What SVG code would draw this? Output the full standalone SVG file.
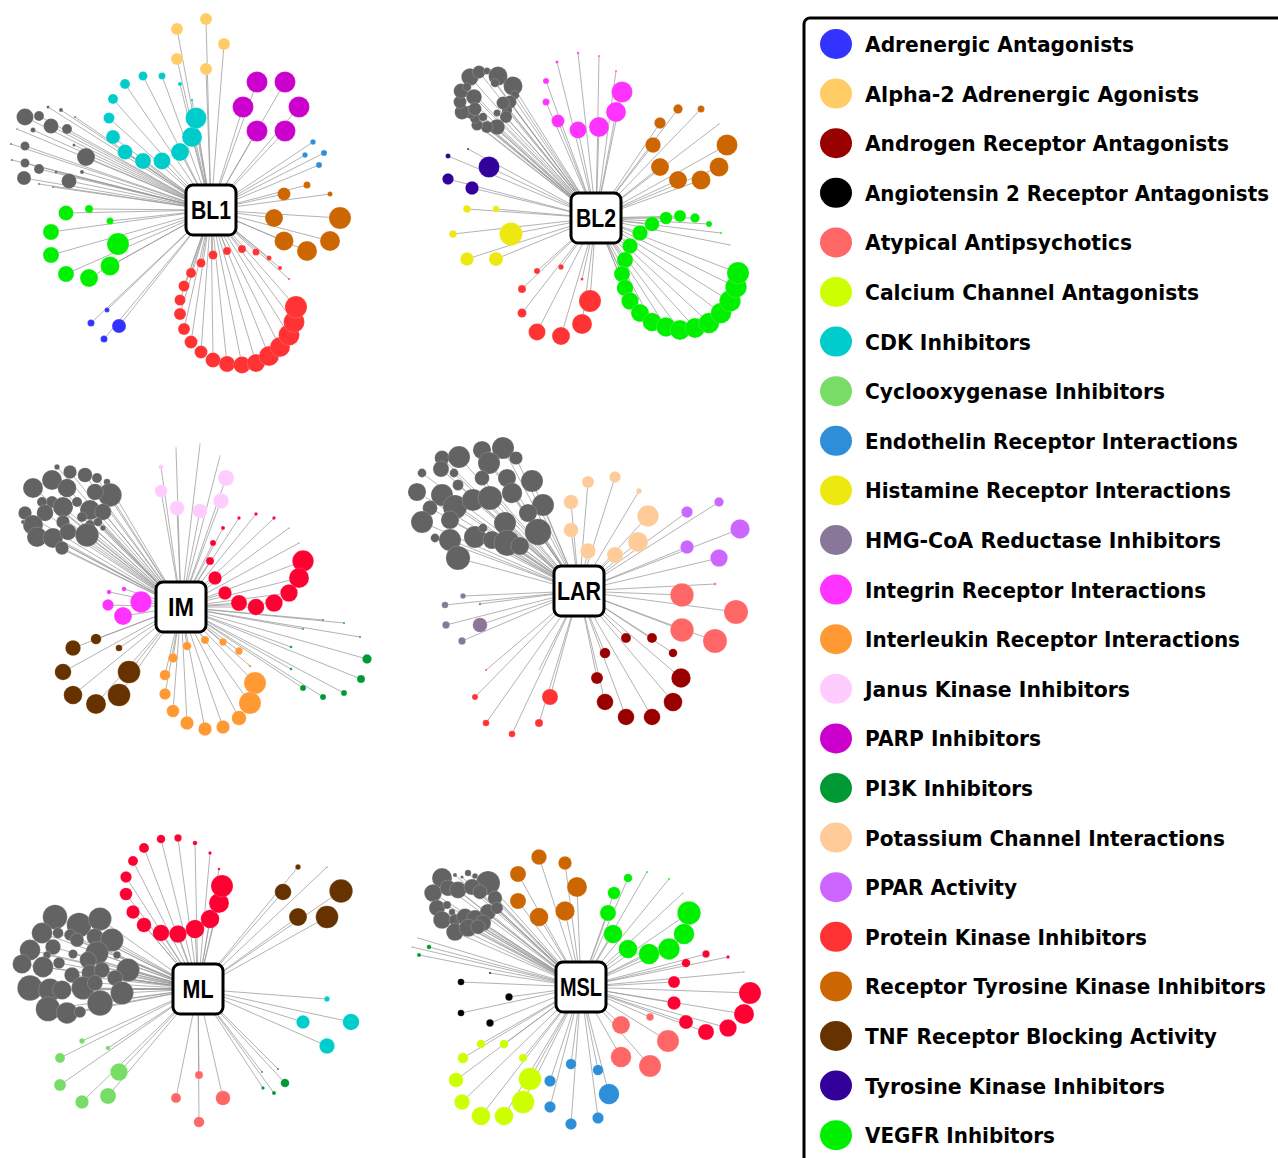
<svg xmlns="http://www.w3.org/2000/svg" width="1278" height="1158" viewBox="0 0 1278 1158">
<style>
.e{fill:none;stroke:#9a9a9a;stroke-width:0.75}
.n circle{stroke:#fff;stroke-opacity:0.35;stroke-width:0.5}
.hub rect{fill:#fff;stroke:#000;stroke-width:3}
.hub text{font-family:"Liberation Sans",Arial,sans-serif;font-weight:bold;font-size:26px;text-anchor:middle;fill:#000}
.lg text{font-family:"DejaVu Sans","Liberation Sans",sans-serif;font-weight:bold;font-size:21px;fill:#000}
.ad{fill:#3333FF}.a2{fill:#FFCC66}.an{fill:#990000}.ag{fill:#000}.at{fill:#FF6666}.ca{fill:#CCFF00}.cd{fill:#00CCCC}.co{fill:#77DD66}.en{fill:#2E8FD8}.hi{fill:#EEE811}.hm{fill:#887799}.in{fill:#FF33FF}.il{fill:#FF9933}.jk{fill:#FFCCFF}.pa{fill:#CC00CC}.p3{fill:#009933}.po{fill:#FFCC99}.pp{fill:#CC66FF}.pk{fill:#FF3333}.pk2{fill:#FF0033}.rt{fill:#CC6600}.tn{fill:#663300}.tk{fill:#330099}.vg{fill:#00F000}.gy{fill:#636363}
</style>
<rect width="1278" height="1158" fill="#fff"/>
<g id="connectors">
<path id="edges-BL1" class="e" d="M211 210L177 29M211 210L206 19M211 210L224 44M211 210L177 59M211 210L206 69M211 210L125 84M211 210L143 76M211 210L162 76M211 210L180 84M211 210L192 100M211 210L113 99M211 210L109 118M211 210L113 137M211 210L125 152M211 210L143 161M211 210L162 161M211 210L180 152M211 210L192 137M211 210L196 118M211 210L257 82M211 210L285 82M211 210L243 107M211 210L299 107M211 210L257 131M211 210L285 131M211 210L313 142M211 210L305 155M211 210L324 153M211 210L319 165M211 210L307 185M211 210L330 194M211 210L284 194M211 210L340 218M211 210L274 218M211 210L284 241M211 210L330 241M211 210L307 251M211 210L289 279M211 210L280 268M211 210L269 258M211 210L256 252M211 210L242 249M211 210L227 251M211 210L213 255M211 210L201 263M211 210L191 273M211 210L184 286M211 210L180 300M211 210L180 314M211 210L184 329M211 210L191 342M211 210L201 352M211 210L213 360M211 210L227 364M211 210L242 365M211 210L256 363M211 210L269 356M211 210L280 347M211 210L289 335M211 210L294 322M211 210L296 307M211 210L107 310M211 210L91 323M211 210L119 326M211 210L104 339M211 210L89 209M211 210L110 221M211 210L66 213M211 210L51 232M211 210L118 244M211 210L51 255M211 210L110 266M211 210L66 274M211 210L89 278M211 210L25 117M211 210L39 116M211 210L51 126M211 210L67 129M211 210L48 107M211 210L61 110M211 210L75 117M211 210L33 130M211 210L25 146M211 210L74 145M211 210L86 157M211 210L11 144M211 210L25 163M211 210L39 169M211 210L56 172M211 210L82 172M211 210L24 178M211 210L69 181M211 210L12 160M211 210L39 184M211 210L53 187M211 210L17 129"/>
<path id="edges-BL2" class="e" d="M596 218L470 77M596 218L479 72M596 218L487 71M596 218L498 76M596 218L513 86M596 218L515 95M596 218L510 102M596 218L507 110M596 218L506 117M596 218L497 127M596 218L487 127M596 218L477 125M596 218L475 118M596 218L470 112M596 218L462 112M596 218L460 102M596 218L461 91M596 218L467 87M596 218L474 97M596 218L475 109M596 218L483 117M596 218L497 113M596 218L503 103M596 218L495 83M596 218L578 53M596 218L599 56M596 218L557 62M596 218L616 71M596 218L546 81M596 218L622 92M596 218L546 102M596 218L616 112M596 218L558 121M596 218L578 130M596 218L599 127M596 218L678 109M596 218L701 109M596 218L660 123M596 218L719 124M596 218L653 145M596 218L727 145M596 218L660 167M596 218L719 167M596 218L678 180M596 218L701 180M596 218L468 149M596 218L448 156M596 218L489 167M596 218L448 179M596 218L472 188M596 218L467 209M596 218L496 209M596 218L453 234M596 218L511 234M596 218L467 259M596 218L496 259M596 218L537 271M596 218L561 267M596 218L582 279M596 218L522 289M596 218L590 301M596 218L522 313M596 218L582 324M596 218L537 332M596 218L561 336M596 218L730 245M596 218L721 233M596 218L709 224M596 218L695 218M596 218L680 216M596 218L666 218M596 218L652 224M596 218L640 233M596 218L630 246M596 218L625 260M596 218L622 274M596 218L625 288M596 218L630 301M596 218L640 313M596 218L652 322M596 218L666 327M596 218L680 330M596 218L695 328M596 218L709 323M596 218L721 313M596 218L730 301M596 218L736 287M596 218L738 273"/>
<path id="edges-IM" class="e" d="M181 607L57 467M181 607L70 472M181 607L85 475M181 607L97 478M181 607L107 482M181 607L52 480M181 607L33 488M181 607L67 488M181 607L110 495M181 607L95 492M181 607L52 502M181 607L42 502M181 607L77 502M181 607L63 507M181 607L25 513M181 607L45 513M181 607L90 510M181 607L103 512M181 607L33 525M181 607L63 522M181 607L82 517M181 607L90 525M181 607L98 522M181 607L37 537M181 607L53 538M181 607L68 532M181 607L87 535M181 607L62 548M181 607L23 522M181 607L103 528M181 607L176 448M181 607L200 444M181 607L220 456M181 607L161 467M181 607L226 478M181 607L161 491M181 607L221 501M181 607L177 508M181 607L200 511M181 607L239 518M181 607L256 514M181 607L274 518M181 607L223 528M181 607L289 528M181 607L213 543M181 607L299 543M181 607L210 561M181 607L303 561M181 607L215 578M181 607L299 578M181 607L225 593M181 607L289 593M181 607L239 603M181 607L256 607M181 607L274 603M181 607L109 592M181 607L124 589M181 607L108 605M181 607L141 602M181 607L123 616M181 607L96 639M181 607L73 648M181 607L119 648M181 607L63 672M181 607L129 672M181 607L73 695M181 607L119 695M181 607L96 704M181 607L187 646M181 607L205 640M181 607L223 642M181 607L239 651M181 607L250 666M181 607L173 658M181 607L165 675M181 607L255 683M181 607L165 694M181 607L250 703M181 607L173 711M181 607L239 718M181 607L187 723M181 607L223 727M181 607L205 729M181 607L323 620M181 607L344 623M181 607L303 629M181 607L360 637M181 607L291 647M181 607L291 669M181 607L367 659M181 607L361 679M181 607L303 688M181 607L323 697M181 607L344 693"/>
<path id="edges-LAR" class="e" d="M579 591L422 473M579 591L442 458M579 591L459 457M579 591L482 450M579 591L503 448M579 591L516 458M579 591L489 463M579 591L441 469M579 591L454 473M579 591L482 478M579 591L507 478M579 591L532 481M579 591L417 492M579 591L442 495M579 591L458 485M579 591L455 507M579 591L473 500M579 591L490 498M579 591L512 493M579 591L543 505M579 591L430 508M579 591L528 513M579 591L422 522M579 591L450 520M579 591L505 523M579 591L538 532M579 591L435 538M579 591L450 540M579 591L475 537M579 591L492 540M579 591L507 543M579 591L520 546M579 591L458 558M579 591L483 528M579 591L588 482M579 591L615 477M579 591L639 491M579 591L571 502M579 591L648 516M579 591L571 530M579 591L638 542M579 591L588 551M579 591L615 555M579 591L719 502M579 591L687 512M579 591L740 529M579 591L687 547M579 591L719 558M579 591L715 584M579 591L682 595M579 591L736 612M579 591L682 630M579 591L715 641M579 591L626 638M579 591L652 638M579 591L605 653M579 591L673 653M579 591L597 678M579 591L681 678M579 591L605 702M579 591L673 702M579 591L626 717M579 591L652 717M579 591L463 596M579 591L445 605M579 591L480 604M579 591L446 625M579 591L480 625M579 591L462 641M579 591L486 670M579 591L475 697M579 591L550 697M579 591L486 723M579 591L512 734M579 591L539 723M579 591L539 670"/>
<path id="edges-ML" class="e" d="M198 989L219 869M198 989L210 853M198 989L195 843M198 989L178 838M198 989L161 839M198 989L144 848M198 989L133 861M198 989L126 877M198 989L126 894M198 989L133 912M198 989L144 925M198 989L161 933M198 989L178 934M198 989L195 929M198 989L210 919M198 989L219 903M198 989L222 886M198 989L298 867M198 989L327 867M198 989L283 892M198 989L341 891M198 989L298 917M198 989L327 917M198 989L327 999M198 989L303 1022M198 989L351 1022M198 989L327 1046M198 989L262 1072M198 989L278 1069M198 989L263 1088M198 989L274 1093M198 989L285 1083M198 989L199 1075M198 989L176 1098M198 989L223 1098M198 989L199 1122M198 989L82 1041M198 989L108 1048M198 989L60 1058M198 989L119 1072M198 989L60 1085M198 989L108 1096M198 989L82 1102M198 989L55 917M198 989L79 925M198 989L100 919M198 989L42 933M198 989L58 933M198 989L70 935M198 989L95 937M198 989L112 940M198 989L30 950M198 989L53 947M198 989L77 940M198 989L47 955M198 989L73 954M198 989L97 953M198 989L117 955M198 989L22 964M198 989L43 967M198 989L59 963M198 989L88 960M198 989L128 970M198 989L72 975M198 989L90 973M198 989L102 970M198 989L115 978M198 989L30 988M198 989L50 990M198 989L62 990M198 989L83 988M198 989L95 983M198 989L122 993M198 989L48 1009M198 989L67 1013M198 989L80 1012M198 989L100 1003"/>
<path id="edges-MSL" class="e" d="M581 987L442 878M581 987L455 875M581 987L462 877M581 987L468 873M581 987L475 876M581 987L488 883M581 987L433 893M581 987L448 888M581 987L458 890M581 987L472 887M581 987L480 892M581 987L495 898M581 987L437 908M581 987L447 905M581 987L488 912M581 987L497 908M581 987L442 920M581 987L455 920M581 987L465 917M581 987L475 918M581 987L483 923M581 987L455 932M581 987L468 928M581 987L478 927M581 987L452 912M581 987L539 857M581 987L565 863M581 987L518 874M581 987L577 887M581 987L518 901M581 987L565 911M581 987L539 917M581 987L647 872M581 987L669 879M581 987L628 878M581 987L683 893M581 987L614 893M581 987L689 913M581 987L608 913M581 987L684 934M581 987L613 934M581 987L669 949M581 987L628 949M581 987L649 954M581 987L706 954M581 987L728 957M581 987L686 963M581 987L744 972M581 987L674 982M581 987L750 993M581 987L674 1003M581 987L744 1014M581 987L686 1022M581 987L728 1028M581 987L706 1032M581 987L650 1017M581 987L621 1025M581 987L668 1041M581 987L621 1057M581 987L650 1066M581 987L571 1064M581 987L598 1070M581 987L550 1081M581 987L609 1094M581 987L550 1107M581 987L598 1118M581 987L571 1124M581 987L481 1044M581 987L504 1044M581 987L523 1058M581 987L463 1058M581 987L530 1079M581 987L456 1080M581 987L523 1102M581 987L462 1102M581 987L481 1116M581 987L504 1116M581 987L490 973M581 987L461 982M581 987L509 997M581 987L461 1013M581 987L490 1023M581 987L412 947M581 987L429 947M581 987L419 955M581 987L418 938"/>
</g>
<g id="nodes-BL1" class="n">
<g id="BL1-alpha2" class="a2"><circle cx="177" cy="29" r="6"/><circle cx="206" cy="19" r="6"/><circle cx="224" cy="44" r="6"/><circle cx="177" cy="59" r="6"/><circle cx="206" cy="69" r="6"/></g>
<g id="BL1-cdk" class="cd"><circle cx="125" cy="84" r="5"/><circle cx="143" cy="76" r="4.5"/><circle cx="162" cy="76" r="3.5"/><circle cx="180" cy="84" r="2"/><circle cx="192" cy="100" r="1.2"/><circle cx="113" cy="99" r="5"/><circle cx="109" cy="118" r="5.5"/><circle cx="113" cy="137" r="7"/><circle cx="125" cy="152" r="7.5"/><circle cx="143" cy="161" r="8"/><circle cx="162" cy="161" r="8.5"/><circle cx="180" cy="152" r="9"/><circle cx="192" cy="137" r="10"/><circle cx="196" cy="118" r="10.5"/></g>
<g id="BL1-parp" class="pa"><circle cx="257" cy="82" r="10.5"/><circle cx="285" cy="82" r="10.5"/><circle cx="243" cy="107" r="10.5"/><circle cx="299" cy="107" r="10.5"/><circle cx="257" cy="131" r="10.5"/><circle cx="285" cy="131" r="10.5"/></g>
<g id="BL1-endothelin" class="en"><circle cx="313" cy="142" r="2.7"/><circle cx="305" cy="155" r="2.7"/><circle cx="324" cy="153" r="3"/><circle cx="319" cy="165" r="3"/></g>
<g id="BL1-rtk" class="rt"><circle cx="307" cy="185" r="3.5"/><circle cx="330" cy="194" r="2.5"/><circle cx="284" cy="194" r="6.5"/><circle cx="340" cy="218" r="11"/><circle cx="274" cy="218" r="9"/><circle cx="284" cy="241" r="9.5"/><circle cx="330" cy="241" r="10"/><circle cx="307" cy="251" r="10"/></g>
<g id="BL1-pk" class="pk"><circle cx="289" cy="279" r="1"/><circle cx="280" cy="268" r="2"/><circle cx="269" cy="258" r="2.5"/><circle cx="256" cy="252" r="3.5"/><circle cx="242" cy="249" r="4"/><circle cx="227" cy="251" r="4"/><circle cx="213" cy="255" r="4.5"/><circle cx="201" cy="263" r="4.5"/><circle cx="191" cy="273" r="5"/><circle cx="184" cy="286" r="5.5"/><circle cx="180" cy="300" r="5.5"/><circle cx="180" cy="314" r="6"/><circle cx="184" cy="329" r="6"/><circle cx="191" cy="342" r="6.5"/><circle cx="201" cy="352" r="6.5"/><circle cx="213" cy="360" r="7.5"/><circle cx="227" cy="364" r="8"/><circle cx="242" cy="365" r="8.5"/><circle cx="256" cy="363" r="9"/><circle cx="269" cy="356" r="10"/><circle cx="280" cy="347" r="10"/><circle cx="289" cy="335" r="10.5"/><circle cx="294" cy="322" r="10.5"/><circle cx="296" cy="307" r="11"/></g>
<g id="BL1-adrenergic" class="ad"><circle cx="107" cy="310" r="2.5"/><circle cx="91" cy="323" r="3.5"/><circle cx="119" cy="326" r="7"/><circle cx="104" cy="339" r="3.5"/></g>
<g id="BL1-vegfr" class="vg"><circle cx="89" cy="209" r="4"/><circle cx="110" cy="221" r="3.5"/><circle cx="66" cy="213" r="7.5"/><circle cx="51" cy="232" r="8"/><circle cx="118" cy="244" r="11"/><circle cx="51" cy="255" r="8"/><circle cx="110" cy="266" r="9.5"/><circle cx="66" cy="274" r="8"/><circle cx="89" cy="278" r="9"/></g>
<g id="BL1-other" class="gy"><circle cx="25" cy="117" r="8.5"/><circle cx="39" cy="116" r="5"/><circle cx="51" cy="126" r="7.5"/><circle cx="67" cy="129" r="5"/><circle cx="48" cy="107" r="1.5"/><circle cx="61" cy="110" r="2"/><circle cx="75" cy="117" r="1"/><circle cx="33" cy="130" r="2.5"/><circle cx="25" cy="146" r="4.5"/><circle cx="74" cy="145" r="1.5"/><circle cx="86" cy="157" r="9"/><circle cx="11" cy="144" r="1"/><circle cx="25" cy="163" r="4.5"/><circle cx="39" cy="169" r="5"/><circle cx="56" cy="172" r="1.5"/><circle cx="82" cy="172" r="2"/><circle cx="24" cy="178" r="7"/><circle cx="69" cy="181" r="7.5"/><circle cx="12" cy="160" r="1"/><circle cx="39" cy="184" r="1"/><circle cx="53" cy="187" r="1"/><circle cx="17" cy="129" r="0.8"/></g>
</g>
<g id="nodes-BL2" class="n">
<g id="BL2-other" class="gy"><circle cx="470" cy="77" r="8.7"/><circle cx="479" cy="72" r="6.5"/><circle cx="487" cy="71" r="3.5"/><circle cx="498" cy="76" r="9.5"/><circle cx="513" cy="86" r="9.5"/><circle cx="515" cy="95" r="4.3"/><circle cx="510" cy="102" r="6.5"/><circle cx="507" cy="110" r="5.2"/><circle cx="506" cy="117" r="6.1"/><circle cx="497" cy="127" r="7.8"/><circle cx="487" cy="127" r="6.1"/><circle cx="477" cy="125" r="5.6"/><circle cx="475" cy="118" r="5.2"/><circle cx="470" cy="112" r="6.5"/><circle cx="462" cy="112" r="7.4"/><circle cx="460" cy="102" r="6.5"/><circle cx="461" cy="91" r="7.4"/><circle cx="467" cy="87" r="4.3"/><circle cx="474" cy="97" r="7.8"/><circle cx="475" cy="109" r="6.5"/><circle cx="483" cy="117" r="4.3"/><circle cx="497" cy="113" r="3.5"/><circle cx="503" cy="103" r="6.5"/><circle cx="495" cy="83" r="4.3"/></g>
<g id="BL2-integrin" class="in"><circle cx="578" cy="53" r="1.2"/><circle cx="599" cy="56" r="1"/><circle cx="557" cy="62" r="1.5"/><circle cx="616" cy="71" r="1"/><circle cx="546" cy="81" r="3"/><circle cx="622" cy="92" r="10.5"/><circle cx="546" cy="102" r="3.5"/><circle cx="616" cy="112" r="10"/><circle cx="558" cy="121" r="6.5"/><circle cx="578" cy="130" r="8.5"/><circle cx="599" cy="127" r="10"/></g>
<g id="BL2-rtk" class="rt"><circle cx="678" cy="109" r="4.7"/><circle cx="701" cy="109" r="3.5"/><circle cx="660" cy="123" r="5.7"/><circle cx="719" cy="124" r="0.6"/><circle cx="653" cy="145" r="7.7"/><circle cx="727" cy="145" r="10.5"/><circle cx="660" cy="167" r="9"/><circle cx="719" cy="167" r="9.5"/><circle cx="678" cy="180" r="9"/><circle cx="701" cy="180" r="9.5"/></g>
<g id="BL2-tki" class="tk"><circle cx="468" cy="149" r="1"/><circle cx="448" cy="156" r="2.5"/><circle cx="489" cy="167" r="10.5"/><circle cx="448" cy="179" r="5.7"/><circle cx="472" cy="188" r="6.7"/></g>
<g id="BL2-histamine" class="hi"><circle cx="467" cy="209" r="3.8"/><circle cx="496" cy="209" r="3.2"/><circle cx="453" cy="234" r="3.8"/><circle cx="511" cy="234" r="11.5"/><circle cx="467" cy="259" r="6.7"/><circle cx="496" cy="259" r="7"/></g>
<g id="BL2-pk" class="pk"><circle cx="537" cy="271" r="3"/><circle cx="561" cy="267" r="2.7"/><circle cx="582" cy="279" r="1.5"/><circle cx="522" cy="289" r="4"/><circle cx="590" cy="301" r="11"/><circle cx="522" cy="313" r="4.5"/><circle cx="582" cy="324" r="10"/><circle cx="537" cy="332" r="8.5"/><circle cx="561" cy="336" r="9"/></g>
<g id="BL2-vegfr" class="vg"><circle cx="730" cy="245" r="0.6"/><circle cx="721" cy="233" r="1"/><circle cx="709" cy="224" r="3"/><circle cx="695" cy="218" r="4.7"/><circle cx="680" cy="216" r="6"/><circle cx="666" cy="218" r="6.3"/><circle cx="652" cy="224" r="7.3"/><circle cx="640" cy="233" r="7.7"/><circle cx="630" cy="246" r="7.7"/><circle cx="625" cy="260" r="8"/><circle cx="622" cy="274" r="8"/><circle cx="625" cy="288" r="8.3"/><circle cx="630" cy="301" r="8.7"/><circle cx="640" cy="313" r="9"/><circle cx="652" cy="322" r="9.3"/><circle cx="666" cy="327" r="9.7"/><circle cx="680" cy="330" r="10"/><circle cx="695" cy="328" r="10"/><circle cx="709" cy="323" r="10.3"/><circle cx="721" cy="313" r="10.3"/><circle cx="730" cy="301" r="10.7"/><circle cx="736" cy="287" r="10.7"/><circle cx="738" cy="273" r="11"/></g>
</g>
<g id="nodes-IM" class="n">
<g id="IM-other" class="gy"><circle cx="57" cy="467" r="2.7"/><circle cx="70" cy="472" r="6.7"/><circle cx="85" cy="475" r="7.3"/><circle cx="97" cy="478" r="5"/><circle cx="107" cy="482" r="3.3"/><circle cx="52" cy="480" r="10"/><circle cx="33" cy="488" r="10"/><circle cx="67" cy="488" r="9.3"/><circle cx="110" cy="495" r="11.7"/><circle cx="95" cy="492" r="8.3"/><circle cx="52" cy="502" r="6"/><circle cx="42" cy="502" r="5"/><circle cx="77" cy="502" r="5"/><circle cx="63" cy="507" r="10"/><circle cx="25" cy="513" r="6.7"/><circle cx="45" cy="513" r="8.3"/><circle cx="90" cy="510" r="10"/><circle cx="103" cy="512" r="8.3"/><circle cx="33" cy="525" r="10"/><circle cx="63" cy="522" r="6.7"/><circle cx="82" cy="517" r="5"/><circle cx="90" cy="525" r="5"/><circle cx="98" cy="522" r="4.3"/><circle cx="37" cy="537" r="10"/><circle cx="53" cy="538" r="10"/><circle cx="68" cy="532" r="8.3"/><circle cx="87" cy="535" r="11.7"/><circle cx="62" cy="548" r="6.7"/><circle cx="23" cy="522" r="2"/><circle cx="103" cy="528" r="2.7"/></g>
<g id="IM-janus" class="jk"><circle cx="176" cy="448" r="1.2"/><circle cx="200" cy="444" r="1.2"/><circle cx="220" cy="456" r="1.2"/><circle cx="161" cy="467" r="2.5"/><circle cx="226" cy="478" r="8"/><circle cx="161" cy="491" r="6.3"/><circle cx="221" cy="501" r="7.7"/><circle cx="177" cy="508" r="7.3"/><circle cx="200" cy="511" r="7.3"/></g>
<g id="IM-pk" class="pk2"><circle cx="239" cy="518" r="1.7"/><circle cx="256" cy="514" r="1.7"/><circle cx="274" cy="518" r="1.7"/><circle cx="223" cy="528" r="2"/><circle cx="289" cy="528" r="0.6"/><circle cx="213" cy="543" r="3"/><circle cx="299" cy="543" r="0.6"/><circle cx="210" cy="561" r="4"/><circle cx="303" cy="561" r="10.7"/><circle cx="215" cy="578" r="6.7"/><circle cx="299" cy="578" r="10"/><circle cx="225" cy="593" r="6.7"/><circle cx="289" cy="593" r="8.7"/><circle cx="239" cy="603" r="8"/><circle cx="256" cy="607" r="8.3"/><circle cx="274" cy="603" r="8.7"/></g>
<g id="IM-integrin" class="in"><circle cx="109" cy="592" r="2.3"/><circle cx="124" cy="589" r="2.3"/><circle cx="108" cy="605" r="5.7"/><circle cx="141" cy="602" r="10.7"/><circle cx="123" cy="616" r="9"/></g>
<g id="IM-tnf" class="tn"><circle cx="96" cy="639" r="5.3"/><circle cx="73" cy="648" r="7.7"/><circle cx="119" cy="648" r="3.3"/><circle cx="63" cy="672" r="8.3"/><circle cx="129" cy="672" r="11.3"/><circle cx="73" cy="695" r="9.3"/><circle cx="119" cy="695" r="11.3"/><circle cx="96" cy="704" r="10"/></g>
<g id="IM-interleukin" class="il"><circle cx="187" cy="646" r="4.3"/><circle cx="205" cy="640" r="4"/><circle cx="223" cy="642" r="3.7"/><circle cx="239" cy="651" r="3.7"/><circle cx="250" cy="666" r="1.3"/><circle cx="173" cy="658" r="4.7"/><circle cx="165" cy="675" r="5.3"/><circle cx="255" cy="683" r="11"/><circle cx="165" cy="694" r="5.7"/><circle cx="250" cy="703" r="11"/><circle cx="173" cy="711" r="6.3"/><circle cx="239" cy="718" r="7.3"/><circle cx="187" cy="723" r="6.7"/><circle cx="223" cy="727" r="6.7"/><circle cx="205" cy="729" r="6.7"/></g>
<g id="IM-pi3k" class="p3"><circle cx="323" cy="620" r="1"/><circle cx="344" cy="623" r="1"/><circle cx="303" cy="629" r="1"/><circle cx="360" cy="637" r="1"/><circle cx="291" cy="647" r="1.3"/><circle cx="291" cy="669" r="1.3"/><circle cx="367" cy="659" r="4.7"/><circle cx="361" cy="679" r="4"/><circle cx="303" cy="688" r="3"/><circle cx="323" cy="697" r="3"/><circle cx="344" cy="693" r="3"/></g>
</g>
<g id="nodes-LAR" class="n">
<g id="LAR-other" class="gy"><circle cx="422" cy="473" r="4.4"/><circle cx="442" cy="458" r="7.4"/><circle cx="459" cy="457" r="11"/><circle cx="482" cy="450" r="9.1"/><circle cx="503" cy="448" r="11"/><circle cx="516" cy="458" r="6.6"/><circle cx="489" cy="463" r="11"/><circle cx="441" cy="469" r="8"/><circle cx="454" cy="473" r="4.4"/><circle cx="482" cy="478" r="7.4"/><circle cx="507" cy="478" r="9.1"/><circle cx="532" cy="481" r="11"/><circle cx="417" cy="492" r="9.1"/><circle cx="442" cy="495" r="11"/><circle cx="458" cy="485" r="5.5"/><circle cx="455" cy="507" r="12.1"/><circle cx="473" cy="500" r="11"/><circle cx="490" cy="498" r="12.1"/><circle cx="512" cy="493" r="10.2"/><circle cx="543" cy="505" r="11"/><circle cx="430" cy="508" r="7.4"/><circle cx="528" cy="513" r="9.1"/><circle cx="422" cy="522" r="11"/><circle cx="450" cy="520" r="9.1"/><circle cx="505" cy="523" r="11"/><circle cx="538" cy="532" r="13.2"/><circle cx="435" cy="538" r="4.4"/><circle cx="450" cy="540" r="11"/><circle cx="475" cy="537" r="11"/><circle cx="492" cy="540" r="9.1"/><circle cx="507" cy="543" r="12.9"/><circle cx="520" cy="546" r="9.1"/><circle cx="458" cy="558" r="12.1"/><circle cx="483" cy="528" r="4.4"/></g>
<g id="LAR-potassium" class="po"><circle cx="588" cy="482" r="6"/><circle cx="615" cy="477" r="5.7"/><circle cx="639" cy="491" r="2.7"/><circle cx="571" cy="502" r="7.3"/><circle cx="648" cy="516" r="10.7"/><circle cx="571" cy="530" r="7.3"/><circle cx="638" cy="542" r="10"/><circle cx="588" cy="551" r="7.7"/><circle cx="615" cy="555" r="8"/></g>
<g id="LAR-ppar" class="pp"><circle cx="719" cy="502" r="4.7"/><circle cx="687" cy="512" r="5.7"/><circle cx="740" cy="529" r="9.7"/><circle cx="687" cy="547" r="6.7"/><circle cx="719" cy="558" r="8.7"/></g>
<g id="LAR-atypical" class="at"><circle cx="715" cy="584" r="1.3"/><circle cx="682" cy="595" r="11.7"/><circle cx="736" cy="612" r="12"/><circle cx="682" cy="630" r="11.7"/><circle cx="715" cy="641" r="12"/></g>
<g id="LAR-androgen" class="an"><circle cx="626" cy="638" r="5"/><circle cx="652" cy="638" r="5"/><circle cx="605" cy="653" r="5.3"/><circle cx="673" cy="653" r="4.3"/><circle cx="597" cy="678" r="6"/><circle cx="681" cy="678" r="9.7"/><circle cx="605" cy="702" r="8.3"/><circle cx="673" cy="702" r="9.3"/><circle cx="626" cy="717" r="8.3"/><circle cx="652" cy="717" r="8.3"/></g>
<g id="LAR-hmgcoa" class="hm"><circle cx="463" cy="596" r="2.7"/><circle cx="445" cy="605" r="3.3"/><circle cx="480" cy="604" r="1.3"/><circle cx="446" cy="625" r="3.7"/><circle cx="480" cy="625" r="7.3"/><circle cx="462" cy="641" r="3.7"/></g>
<g id="LAR-pk" class="pk"><circle cx="486" cy="670" r="1"/><circle cx="475" cy="697" r="3"/><circle cx="550" cy="697" r="8"/><circle cx="486" cy="723" r="3.3"/><circle cx="512" cy="734" r="3.3"/><circle cx="539" cy="723" r="4"/></g>
</g>
<g id="nodes-ML" class="n">
<g id="ML-pk" class="pk2"><circle cx="219" cy="869" r="1.3"/><circle cx="210" cy="853" r="1.7"/><circle cx="195" cy="843" r="2.3"/><circle cx="178" cy="838" r="3.7"/><circle cx="161" cy="839" r="4.3"/><circle cx="144" cy="848" r="5"/><circle cx="133" cy="861" r="5"/><circle cx="126" cy="877" r="5.7"/><circle cx="126" cy="894" r="6.3"/><circle cx="133" cy="912" r="6.7"/><circle cx="144" cy="925" r="7.3"/><circle cx="161" cy="933" r="8.3"/><circle cx="178" cy="934" r="8.7"/><circle cx="195" cy="929" r="9.3"/><circle cx="210" cy="919" r="9.3"/><circle cx="219" cy="903" r="10"/><circle cx="222" cy="886" r="11"/></g>
<g id="ML-tnf" class="tn"><circle cx="298" cy="867" r="2.7"/><circle cx="327" cy="867" r="0.6"/><circle cx="283" cy="892" r="8.3"/><circle cx="341" cy="891" r="11.7"/><circle cx="298" cy="917" r="9"/><circle cx="327" cy="917" r="11.3"/></g>
<g id="ML-cdk" class="cd"><circle cx="327" cy="999" r="2.7"/><circle cx="303" cy="1022" r="6.7"/><circle cx="351" cy="1022" r="8.3"/><circle cx="327" cy="1046" r="7.7"/></g>
<g id="ML-pi3k" class="p3"><circle cx="262" cy="1072" r="1"/><circle cx="278" cy="1069" r="1"/><circle cx="263" cy="1088" r="1.7"/><circle cx="274" cy="1093" r="2"/><circle cx="285" cy="1083" r="4.3"/></g>
<g id="ML-atypical" class="at"><circle cx="199" cy="1075" r="4"/><circle cx="176" cy="1098" r="5"/><circle cx="223" cy="1098" r="7.3"/><circle cx="199" cy="1122" r="5.3"/></g>
<g id="ML-cox" class="co"><circle cx="82" cy="1041" r="2.7"/><circle cx="108" cy="1048" r="2.3"/><circle cx="60" cy="1058" r="5"/><circle cx="119" cy="1072" r="8.7"/><circle cx="60" cy="1085" r="6"/><circle cx="108" cy="1096" r="8"/><circle cx="82" cy="1102" r="6.7"/></g>
<g id="ML-other" class="gy"><circle cx="55" cy="917" r="12.3"/><circle cx="79" cy="925" r="12.3"/><circle cx="100" cy="919" r="11.5"/><circle cx="42" cy="933" r="10.4"/><circle cx="58" cy="933" r="5.4"/><circle cx="70" cy="935" r="5.8"/><circle cx="95" cy="937" r="8.4"/><circle cx="112" cy="940" r="11.5"/><circle cx="30" cy="950" r="10.4"/><circle cx="53" cy="947" r="7.7"/><circle cx="77" cy="940" r="6.9"/><circle cx="47" cy="955" r="3.8"/><circle cx="73" cy="954" r="4.6"/><circle cx="97" cy="953" r="11.5"/><circle cx="117" cy="955" r="3.8"/><circle cx="22" cy="964" r="9.5"/><circle cx="43" cy="967" r="10.4"/><circle cx="59" cy="963" r="5.8"/><circle cx="88" cy="960" r="8.4"/><circle cx="128" cy="970" r="11.5"/><circle cx="72" cy="975" r="7.7"/><circle cx="90" cy="973" r="8.4"/><circle cx="102" cy="970" r="7.7"/><circle cx="115" cy="978" r="7.7"/><circle cx="30" cy="988" r="12.7"/><circle cx="50" cy="990" r="11.5"/><circle cx="62" cy="990" r="9.5"/><circle cx="83" cy="988" r="11.5"/><circle cx="95" cy="983" r="7.7"/><circle cx="122" cy="993" r="11.5"/><circle cx="48" cy="1009" r="12.3"/><circle cx="67" cy="1013" r="10.7"/><circle cx="80" cy="1012" r="5.8"/><circle cx="100" cy="1003" r="12.7"/></g>
</g>
<g id="nodes-MSL" class="n">
<g id="MSL-other" class="gy"><circle cx="442" cy="878" r="10"/><circle cx="455" cy="875" r="2"/><circle cx="462" cy="877" r="1.6"/><circle cx="468" cy="873" r="3.2"/><circle cx="475" cy="876" r="2.8"/><circle cx="488" cy="883" r="12"/><circle cx="433" cy="893" r="8.8"/><circle cx="448" cy="888" r="8"/><circle cx="458" cy="890" r="8.4"/><circle cx="472" cy="887" r="8"/><circle cx="480" cy="892" r="7.2"/><circle cx="495" cy="898" r="7.2"/><circle cx="437" cy="908" r="8"/><circle cx="447" cy="905" r="4"/><circle cx="488" cy="912" r="8"/><circle cx="497" cy="908" r="6"/><circle cx="442" cy="920" r="8.8"/><circle cx="455" cy="920" r="6"/><circle cx="465" cy="917" r="8.4"/><circle cx="475" cy="918" r="8"/><circle cx="483" cy="923" r="8"/><circle cx="455" cy="932" r="8.8"/><circle cx="468" cy="928" r="8.8"/><circle cx="478" cy="927" r="7.2"/><circle cx="452" cy="912" r="3.2"/></g>
<g id="MSL-rtk" class="rt"><circle cx="539" cy="857" r="7.7"/><circle cx="565" cy="863" r="6.7"/><circle cx="518" cy="874" r="8"/><circle cx="577" cy="887" r="10"/><circle cx="518" cy="901" r="8"/><circle cx="565" cy="911" r="9.7"/><circle cx="539" cy="917" r="9.3"/></g>
<g id="MSL-vegfr" class="vg"><circle cx="647" cy="872" r="1"/><circle cx="669" cy="879" r="1"/><circle cx="628" cy="878" r="4.3"/><circle cx="683" cy="893" r="0.6"/><circle cx="614" cy="893" r="6.3"/><circle cx="689" cy="913" r="11.7"/><circle cx="608" cy="913" r="8"/><circle cx="684" cy="934" r="10.3"/><circle cx="613" cy="934" r="9.3"/><circle cx="669" cy="949" r="10.7"/><circle cx="628" cy="949" r="9.3"/><circle cx="649" cy="954" r="10.3"/></g>
<g id="MSL-pk" class="pk2"><circle cx="706" cy="954" r="3.7"/><circle cx="728" cy="957" r="1.7"/><circle cx="686" cy="963" r="4.3"/><circle cx="744" cy="972" r="0.6"/><circle cx="674" cy="982" r="6"/><circle cx="750" cy="993" r="11"/><circle cx="674" cy="1003" r="6.7"/><circle cx="744" cy="1014" r="10"/><circle cx="686" cy="1022" r="7"/><circle cx="728" cy="1028" r="8.7"/><circle cx="706" cy="1032" r="8"/></g>
<g id="MSL-atypical" class="at"><circle cx="650" cy="1017" r="3.7"/><circle cx="621" cy="1025" r="9"/><circle cx="668" cy="1041" r="11"/><circle cx="621" cy="1057" r="10.3"/><circle cx="650" cy="1066" r="11"/></g>
<g id="MSL-endothelin" class="en"><circle cx="571" cy="1064" r="5.3"/><circle cx="598" cy="1070" r="5.3"/><circle cx="550" cy="1081" r="5.7"/><circle cx="609" cy="1094" r="10.3"/><circle cx="550" cy="1107" r="5.7"/><circle cx="598" cy="1118" r="5.7"/><circle cx="571" cy="1124" r="5.7"/></g>
<g id="MSL-calcium" class="ca"><circle cx="481" cy="1044" r="4.3"/><circle cx="504" cy="1044" r="4.3"/><circle cx="523" cy="1058" r="4"/><circle cx="463" cy="1058" r="5.3"/><circle cx="530" cy="1079" r="11.3"/><circle cx="456" cy="1080" r="7.3"/><circle cx="523" cy="1102" r="11.3"/><circle cx="462" cy="1102" r="7.7"/><circle cx="481" cy="1116" r="9.3"/><circle cx="504" cy="1116" r="9.3"/></g>
<g id="MSL-angiotensin" class="ag"><circle cx="490" cy="973" r="1"/><circle cx="461" cy="982" r="3.3"/><circle cx="509" cy="997" r="3.7"/><circle cx="461" cy="1013" r="3.3"/><circle cx="490" cy="1023" r="3.7"/></g>
<g id="MSL-pi3k" class="p3"><circle cx="412" cy="947" r="0.6"/><circle cx="429" cy="947" r="2.3"/><circle cx="419" cy="955" r="2"/><circle cx="418" cy="938" r="0.5"/></g>
</g>
<g id="hub-BL1" class="hub"><rect x="186" y="185" width="50" height="50" rx="7"/><text x="211" y="219" textLength="40" lengthAdjust="spacingAndGlyphs">BL1</text></g>
<g id="hub-BL2" class="hub"><rect x="571" y="193" width="50" height="50" rx="7"/><text x="596" y="227" textLength="40" lengthAdjust="spacingAndGlyphs">BL2</text></g>
<g id="hub-IM" class="hub"><rect x="156" y="582" width="50" height="50" rx="7"/><text x="181" y="616" textLength="26" lengthAdjust="spacingAndGlyphs">IM</text></g>
<g id="hub-LAR" class="hub"><rect x="554" y="566" width="50" height="50" rx="7"/><text x="579" y="600" textLength="44" lengthAdjust="spacingAndGlyphs">LAR</text></g>
<g id="hub-ML" class="hub"><rect x="173" y="964" width="50" height="50" rx="7"/><text x="198" y="998" textLength="31" lengthAdjust="spacingAndGlyphs">ML</text></g>
<g id="hub-MSL" class="hub"><rect x="556" y="962" width="50" height="50" rx="7"/><text x="581" y="996" textLength="42" lengthAdjust="spacingAndGlyphs">MSL</text></g>
<g id="legend" class="lg">
<rect x="804" y="18" width="500" height="1160" rx="6" fill="#fff" stroke="#000" stroke-width="3"/>
<ellipse class="ad" cx="836" cy="44" rx="16" ry="15"/><text x="865" y="52" textLength="269" lengthAdjust="spacingAndGlyphs">Adrenergic Antagonists</text>
<ellipse class="a2" cx="836" cy="93.6" rx="16" ry="15"/><text x="865" y="101.6" textLength="334" lengthAdjust="spacingAndGlyphs">Alpha-2 Adrenergic Agonists</text>
<ellipse class="an" cx="836" cy="143.2" rx="16" ry="15"/><text x="865" y="151.2" textLength="364" lengthAdjust="spacingAndGlyphs">Androgen Receptor Antagonists</text>
<ellipse class="ag" cx="836" cy="192.8" rx="16" ry="15"/><text x="865" y="200.8" textLength="404" lengthAdjust="spacingAndGlyphs">Angiotensin 2 Receptor Antagonists</text>
<ellipse class="at" cx="836" cy="242.4" rx="16" ry="15"/><text x="865" y="250.4" textLength="267" lengthAdjust="spacingAndGlyphs">Atypical Antipsychotics</text>
<ellipse class="ca" cx="836" cy="292" rx="16" ry="15"/><text x="865" y="300" textLength="334" lengthAdjust="spacingAndGlyphs">Calcium Channel Antagonists</text>
<ellipse class="cd" cx="836" cy="341.6" rx="16" ry="15"/><text x="865" y="349.6" textLength="166" lengthAdjust="spacingAndGlyphs">CDK Inhibitors</text>
<ellipse class="co" cx="836" cy="391.2" rx="16" ry="15"/><text x="865" y="399.2" textLength="300" lengthAdjust="spacingAndGlyphs">Cyclooxygenase Inhibitors</text>
<ellipse class="en" cx="836" cy="440.8" rx="16" ry="15"/><text x="865" y="448.8" textLength="373" lengthAdjust="spacingAndGlyphs">Endothelin Receptor Interactions</text>
<ellipse class="hi" cx="836" cy="490.4" rx="16" ry="15"/><text x="865" y="498.4" textLength="366" lengthAdjust="spacingAndGlyphs">Histamine Receptor Interactions</text>
<ellipse class="hm" cx="836" cy="540" rx="16" ry="15"/><text x="865" y="548" textLength="356" lengthAdjust="spacingAndGlyphs">HMG-CoA Reductase Inhibitors</text>
<ellipse class="in" cx="836" cy="589.6" rx="16" ry="15"/><text x="865" y="597.6" textLength="341" lengthAdjust="spacingAndGlyphs">Integrin Receptor Interactions</text>
<ellipse class="il" cx="836" cy="639.2" rx="16" ry="15"/><text x="865" y="647.2" textLength="375" lengthAdjust="spacingAndGlyphs">Interleukin Receptor Interactions</text>
<ellipse class="jk" cx="836" cy="688.8" rx="16" ry="15"/><text x="865" y="696.8" textLength="265" lengthAdjust="spacingAndGlyphs">Janus Kinase Inhibitors</text>
<ellipse class="pa" cx="836" cy="738.4" rx="16" ry="15"/><text x="865" y="746.4" textLength="176" lengthAdjust="spacingAndGlyphs">PARP Inhibitors</text>
<ellipse class="p3" cx="836" cy="788" rx="16" ry="15"/><text x="865" y="796" textLength="168" lengthAdjust="spacingAndGlyphs">PI3K Inhibitors</text>
<ellipse class="po" cx="836" cy="837.6" rx="16" ry="15"/><text x="865" y="845.6" textLength="360" lengthAdjust="spacingAndGlyphs">Potassium Channel Interactions</text>
<ellipse class="pp" cx="836" cy="887.2" rx="16" ry="15"/><text x="865" y="895.2" textLength="152" lengthAdjust="spacingAndGlyphs">PPAR Activity</text>
<ellipse class="pk" cx="836" cy="936.8" rx="16" ry="15"/><text x="865" y="944.8" textLength="282" lengthAdjust="spacingAndGlyphs">Protein Kinase Inhibitors</text>
<ellipse class="rt" cx="836" cy="986.4" rx="16" ry="15"/><text x="865" y="994.4" textLength="401" lengthAdjust="spacingAndGlyphs">Receptor Tyrosine Kinase Inhibitors</text>
<ellipse class="tn" cx="836" cy="1036" rx="16" ry="15"/><text x="865" y="1044" textLength="352" lengthAdjust="spacingAndGlyphs">TNF Receptor Blocking Activity</text>
<ellipse class="tk" cx="836" cy="1085.6" rx="16" ry="15"/><text x="865" y="1093.6" textLength="300" lengthAdjust="spacingAndGlyphs">Tyrosine Kinase Inhibitors</text>
<ellipse class="vg" cx="836" cy="1135.2" rx="16" ry="15"/><text x="865" y="1143.2" textLength="190" lengthAdjust="spacingAndGlyphs">VEGFR Inhibitors</text>
</g>
</svg>
